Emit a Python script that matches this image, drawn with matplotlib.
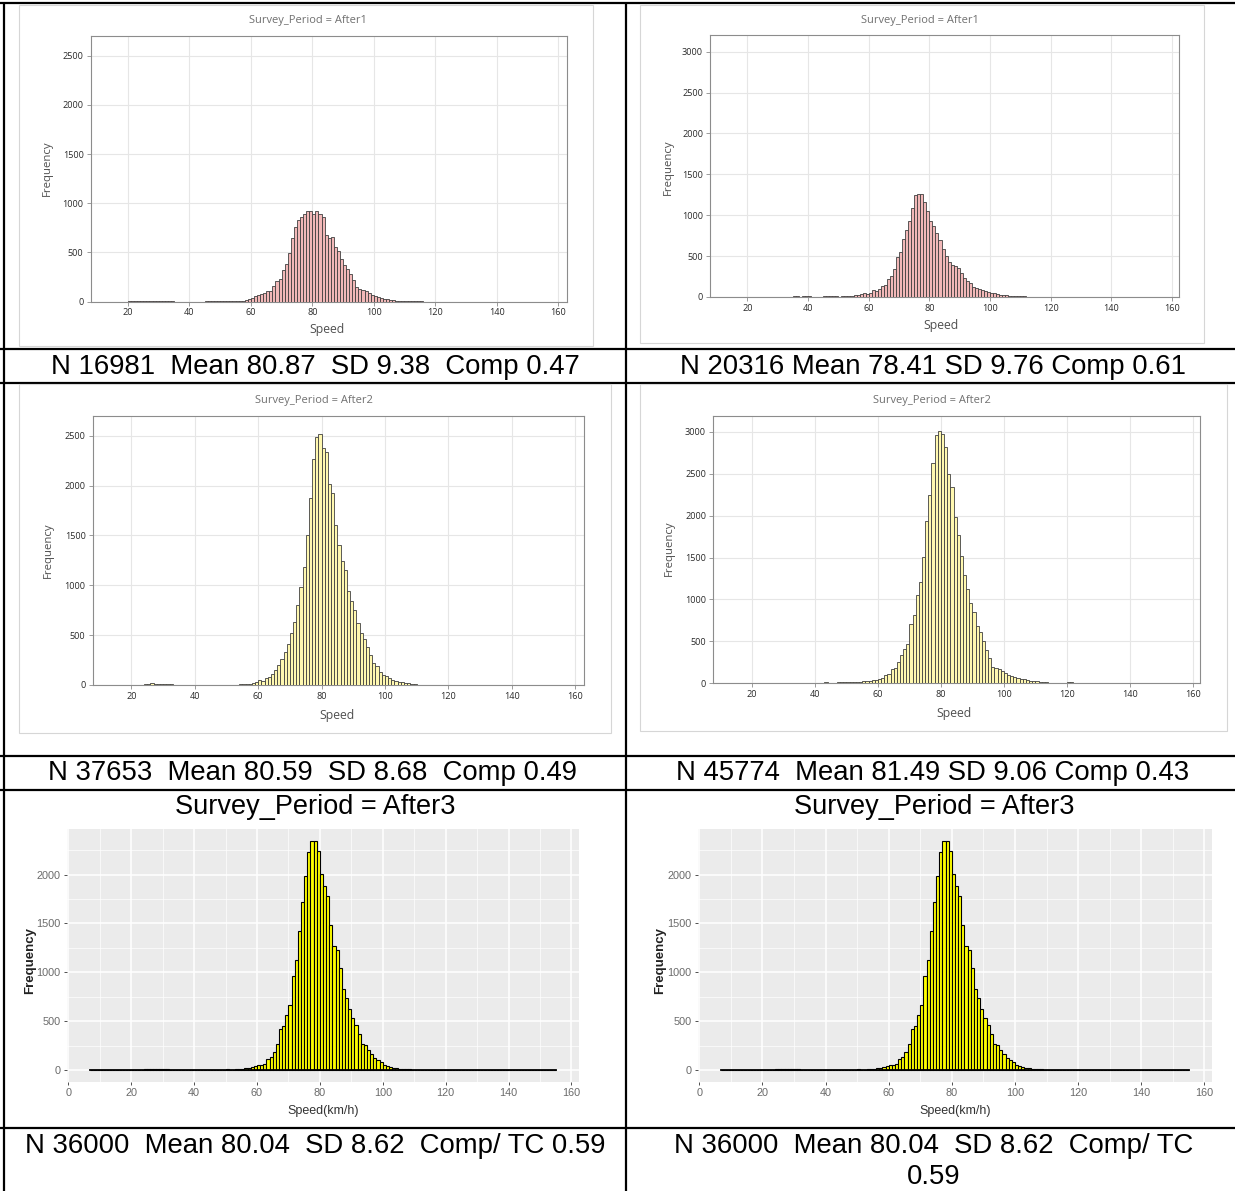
import numpy as np
import matplotlib
matplotlib.use("Agg")
import matplotlib.pyplot as plt
from matplotlib.patches import Rectangle

W, H = 1235, 1191

# ---- data: counts per 1 km/h speed bin ----
a1_left_start = 20
a1_left_counts = [2, 2, 3, 3, 2, 2, 3, 3, 2, 2, 2, 2, 2, 1, 1, 0, 0, 0, 0, 0,   # 20-39
                  0, 0, 0, 0, 0, 1, 1, 1, 1, 1, 2, 2, 3, 3, 4, 8, 10, 10, 14, 27,  # 40-59
                  34, 54, 68, 78, 88, 108, 111, 159, 209, 230,
                  321, 382, 490, 642, 753, 828, 861, 889, 916, 922,
                  895, 916, 889, 861, 676, 645, 652, 557, 510, 432,
                  372, 331, 280, 220, 145, 132, 118, 105, 84, 71,
                  54, 44, 37, 30, 27, 17, 14, 10, 5, 4,
                  3, 3, 2, 2, 10, 2]

a1_right_start = 12
a1_right_counts = [1, 1, 1, 1, 1, 1, 1, 1,                     # 12-19
                   1, 1, 1, 1, 1, 2, 2, 4, 3, 2,               # 20-29
                   2, 2, 3, 3, 4, 8, 10, 6, 10, 8,             # 30-39
                   10, 4, 4, 3, 5, 10, 12, 10, 12, 8,          # 40-49
                   6, 12, 12, 14, 12, 22, 28, 33, 45, 40,      # 50-59
                   53, 86, 70, 94, 135, 143, 217, 258, 340, 488,
                   545, 709, 816, 930, 1086, 1246, 1262, 1262, 1164, 1049,
                   926, 873, 783, 693, 590, 504, 430, 389, 385, 352,
                   299, 238, 193, 168, 127, 115, 98, 86, 74, 57,
                   49, 45, 37, 29, 29, 20, 16, 12, 8, 8,
                   10, 10, 4, 3, 3, 4, 3, 2, 2, 1]

a2_left_start = 11
a2_left_counts = [1, 1, 1, 1, 1, 1, 1, 1, 1,                   # 11-19
                  2, 2, 3, 3, 10, 12, 18, 12, 12, 12,          # 20-29
                  12, 12, 10, 3, 1, 1, 1, 1, 1, 1,             # 30-39
                  1, 1, 1, 1, 1, 1, 1, 1, 1, 1,                # 40-49
                  2, 2, 3, 5, 8, 12, 15, 15, 20, 33,           # 50-59
                  47, 40, 70, 80, 106, 150, 199, 259, 332, 412,
                  518, 635, 804, 980, 1183, 1505, 1870, 2262, 2485, 2518,
                  2375, 2335, 2020, 1920, 1605, 1399, 1239, 1150, 947, 844,
                  748, 621, 525, 458, 385, 299, 219, 186, 126, 100,
                  93, 70, 53, 40, 33, 27, 20, 23, 13, 7,
                  5, 5, 3]

a2_right_start = 12
a2_right_counts = [1, 1, 1, 1, 1, 1, 1, 1,                     # 12-19
                   1, 1, 1, 1, 1, 1, 1, 1, 1, 1,               # 20-29
                   1, 1, 1, 1, 1, 1, 8, 8, 8, 8,               # 30-39
                   8, 8, 8, 16, 8, 8, 8, 12, 12, 16,           # 40-49
                   12, 16, 12, 16, 20, 24, 28, 32, 36, 40,     # 50-59
                   52, 64, 104, 112, 172, 184, 252, 332, 408, 472,
                   712, 820, 1052, 1212, 1504, 1932, 2240, 2632, 2964, 3012,
                   2972, 2812, 2492, 2340, 1980, 1772, 1520, 1292, 1124, 960,
                   852, 680, 612, 504, 400, 300, 200, 184, 172, 144,
                   120, 104, 88, 72, 64, 56, 48, 40, 32, 32,
                   24, 16, 10, 10, 8, 8, 6, 4, 8, 4,
                   10, 12, 4]

after3_start = 7
after3_counts = ([0] * 13 +                                     # 7-19
                 [3, 5, 5, 6, 8, 9, 10, 10, 11, 12,             # 20-29
                  14, 8, 4, 3, 3, 2, 2, 2, 2, 2,                # 30-39
                  2, 2, 2, 2, 2, 3, 4, 4, 5, 6,                 # 40-49
                  8, 6, 6, 8, 10, 14, 20, 24, 30, 40,           # 50-59
                  51, 58, 68, 112, 133, 187, 269, 425, 449, 561,
                  670, 962, 1125, 1418, 1717, 1989, 2234, 2343, 2343, 2244,
                  2006, 1887, 1778, 1486, 1268, 1224, 1044, 833, 738, 629,
                  534, 466, 374, 272, 262, 211, 167, 126, 105, 85,
                  58, 44, 34, 27, 24, 17, 17, 14, 10, 7,
                  7, 7, 5, 4, 3, 3, 2, 2, 2, 1,
                  1, 1, 1, 1, 1] +
                 [0] * 30)                                      # 125-154

captions = ["N 16981  Mean 80.87  SD 9.38  Comp 0.47",
            "N 20316 Mean 78.41 SD 9.76 Comp 0.61",
            "N 37653  Mean 80.59  SD 8.68  Comp 0.49",
            "N 45774  Mean 81.49 SD 9.06 Comp 0.43",
            "N 36000  Mean 80.04  SD 8.62  Comp/ TC 0.59",
            "N 36000  Mean 80.04  SD 8.62  Comp/ TC",
            "0.59"]

speed_ticks = [20, 40, 60, 80, 100, 120, 140, 160]
gg_speed_ticks = [0, 20, 40, 60, 80, 100, 120, 140, 160]
freq_ticks_2500 = [0, 500, 1000, 1500, 2000, 2500]
freq_ticks_3000 = [0, 500, 1000, 1500, 2000, 2500, 3000]
gg_freq_ticks = [0, 500, 1000, 1500, 2000]

PINK = "#f2b8b8"
PALE_YELLOW = "#fff8b0"
YELLOW = "#ffff00"
SAS_FONT = ["Open Sans", "DejaVu Sans"]
ARIAL = ["Liberation Sans", "DejaVu Sans"]
NARROW = ["Liberation Sans Narrow", "Liberation Sans", "DejaVu Sans"]


def px_axes(fig, left, top, right, bottom):
    return fig.add_axes([left / W, 1 - bottom / H, (right - left) / W, (bottom - top) / H])


def sas_hist(fig, bg, box, frame, start, counts, fill, xlim, ylim, yticks, title, title_xy, xlab_xy, ylab_xy):
    # light frame of the exported picture
    bg.add_patch(Rectangle((frame[0], frame[1]), frame[2] - frame[0], frame[3] - frame[1],
                           facecolor="white", edgecolor="#d6d6d6", linewidth=0.8, zorder=3))
    ax = px_axes(fig, *box)
    edges = np.arange(len(counts)) + start
    ax.bar(edges, counts, width=1, align="edge", color=fill, edgecolor="#404040",
           linewidth=0.6, zorder=3)
    ax.set_xlim(*xlim)
    ax.set_ylim(*ylim)
    ax.set_xticks(speed_ticks)
    ax.set_yticks(yticks)
    ax.grid(True, color="#e6e6e6", linewidth=0.8, zorder=0)
    ax.set_axisbelow(True)
    for s in ax.spines.values():
        s.set_color("#8c8c8c")
        s.set_linewidth(0.8)
    ax.tick_params(length=3, width=0.6, color="#8c8c8c", labelsize=6.6, labelcolor="#2a2a2a", pad=2)
    for lab in ax.get_xticklabels() + ax.get_yticklabels():
        lab.set_family(SAS_FONT)
    bg.text(*title_xy, title, ha="center", va="center", fontsize=8, color="#707070",
            family=SAS_FONT, zorder=4)
    bg.text(*xlab_xy, "Speed", ha="center", va="center", fontsize=8.8, color="#505050",
            family=SAS_FONT, zorder=4)
    bg.text(*ylab_xy, "Frequency", ha="center", va="center", fontsize=8.2, color="#505050",
            rotation=90, family=SAS_FONT, zorder=4)
    return ax


def gg_hist(fig, bg, box, start, counts, title_xy, xlab_xy, ylab_xy):
    ax = px_axes(fig, *box)
    ax.set_facecolor("#ebebeb")
    edges = np.arange(len(counts)) + start
    ax.bar(edges, counts, width=1, align="edge", color=YELLOW, edgecolor="black",
           linewidth=0.8, zorder=3)
    # outlines of the empty bins along the bottom
    ax.plot([edges[0], edges[-1] + 1], [0, 0], color="black", linewidth=1.3, zorder=4)
    ax.set_xlim(-0.4, 162.4)
    ax.set_ylim(-120, 2465)
    ax.set_xticks(gg_speed_ticks)
    ax.set_yticks(gg_freq_ticks)
    ax.set_xticks([10, 30, 50, 70, 90, 110, 130, 150], minor=True)
    ax.set_yticks([250, 750, 1250, 1750, 2250], minor=True)
    ax.grid(True, which="major", color="white", linewidth=1.1, zorder=0)
    ax.grid(True, which="minor", color="white", linewidth=0.5, zorder=0)
    ax.set_axisbelow(True)
    for s in ax.spines.values():
        s.set_visible(False)
    ax.tick_params(which="major", length=2.5, width=0.6, color="#333333", labelsize=7.8,
                   labelcolor="#6a6a6a", pad=2)
    ax.tick_params(which="minor", length=0)
    for lab in ax.get_xticklabels() + ax.get_yticklabels():
        lab.set_family(NARROW)
    bg.text(*title_xy, "Survey_Period = After3", ha="center", va="center", fontsize=19.5,
            family=ARIAL, zorder=4)
    bg.text(*xlab_xy, "Speed(km/h)", ha="center", va="center", fontsize=9, color="#333333",
            family=NARROW, zorder=4)
    bg.text(*ylab_xy, "Frequency", ha="center", va="center", fontsize=9.5, color="#222222",
            rotation=90, fontweight="bold", family=ARIAL, zorder=4)
    return ax


def main():
    fig = plt.figure(figsize=(W / 100, H / 100), dpi=100)
    bg = fig.add_axes([0, 0, 1, 1])
    bg.set_xlim(0, W)
    bg.set_ylim(H, 0)
    bg.axis("off")

    # table rules
    for y in [3, 349, 383, 756, 790, 1128]:
        bg.plot([0, W], [y, y], color="black", linewidth=1.6, zorder=1, solid_capstyle="butt")
    for x in [4, 626]:
        bg.plot([x, x], [3, H], color="black", linewidth=1.6, zorder=1, solid_capstyle="butt")

    # row 1
    sas_hist(fig, bg, (90.5, 35.7, 567, 301.5), (19, 5, 593, 346), a1_left_start, a1_left_counts,
             PINK, (7.8, 162.9), (0, 2704), freq_ticks_2500, "Survey_Period = After1",
             (308, 20), (327, 330), (47, 168))
    sas_hist(fig, bg, (710, 35, 1178.5, 297), (640, 5, 1204, 343), a1_right_start, a1_right_counts,
             PINK, (7.7, 162.1), (0, 3204), freq_ticks_3000, "Survey_Period = After1",
             (920, 20), (941, 326), (668, 167))
    # row 2
    sas_hist(fig, bg, (92.5, 415.7, 584, 685), (19, 384, 611, 733), a2_left_start, a2_left_counts,
             PALE_YELLOW, (7.7, 162.8), (0, 2700), freq_ticks_2500, "Survey_Period = After2",
             (314, 400), (337, 715), (48, 550))
    sas_hist(fig, bg, (713, 415.7, 1200, 683.3), (640, 384, 1227, 731), a2_right_start, a2_right_counts,
             PALE_YELLOW, (7.6, 162.3), (0, 3191), freq_ticks_3000, "Survey_Period = After2",
             (932, 400), (954, 713), (669, 548))
    # row 3
    gg_hist(fig, bg, (67, 829, 579, 1082), after3_start, after3_counts,
            (315, 807), (323, 1111), (30, 960))
    gg_hist(fig, bg, (698, 829, 1212, 1082), after3_start, after3_counts,
            (934, 807), (955, 1111), (660, 960))

    # captions
    cap_xy = [(315, 367), (933, 367), (312, 773), (933, 773), (315, 1146), (934, 1146), (934, 1177)]
    for (x, y), text in zip(cap_xy, captions):
        bg.text(x, y, text, ha="center", va="center", fontsize=19.8, family=ARIAL, zorder=4)

    fig.savefig("out.png", dpi=100)


if __name__ == "__main__":
    main()
